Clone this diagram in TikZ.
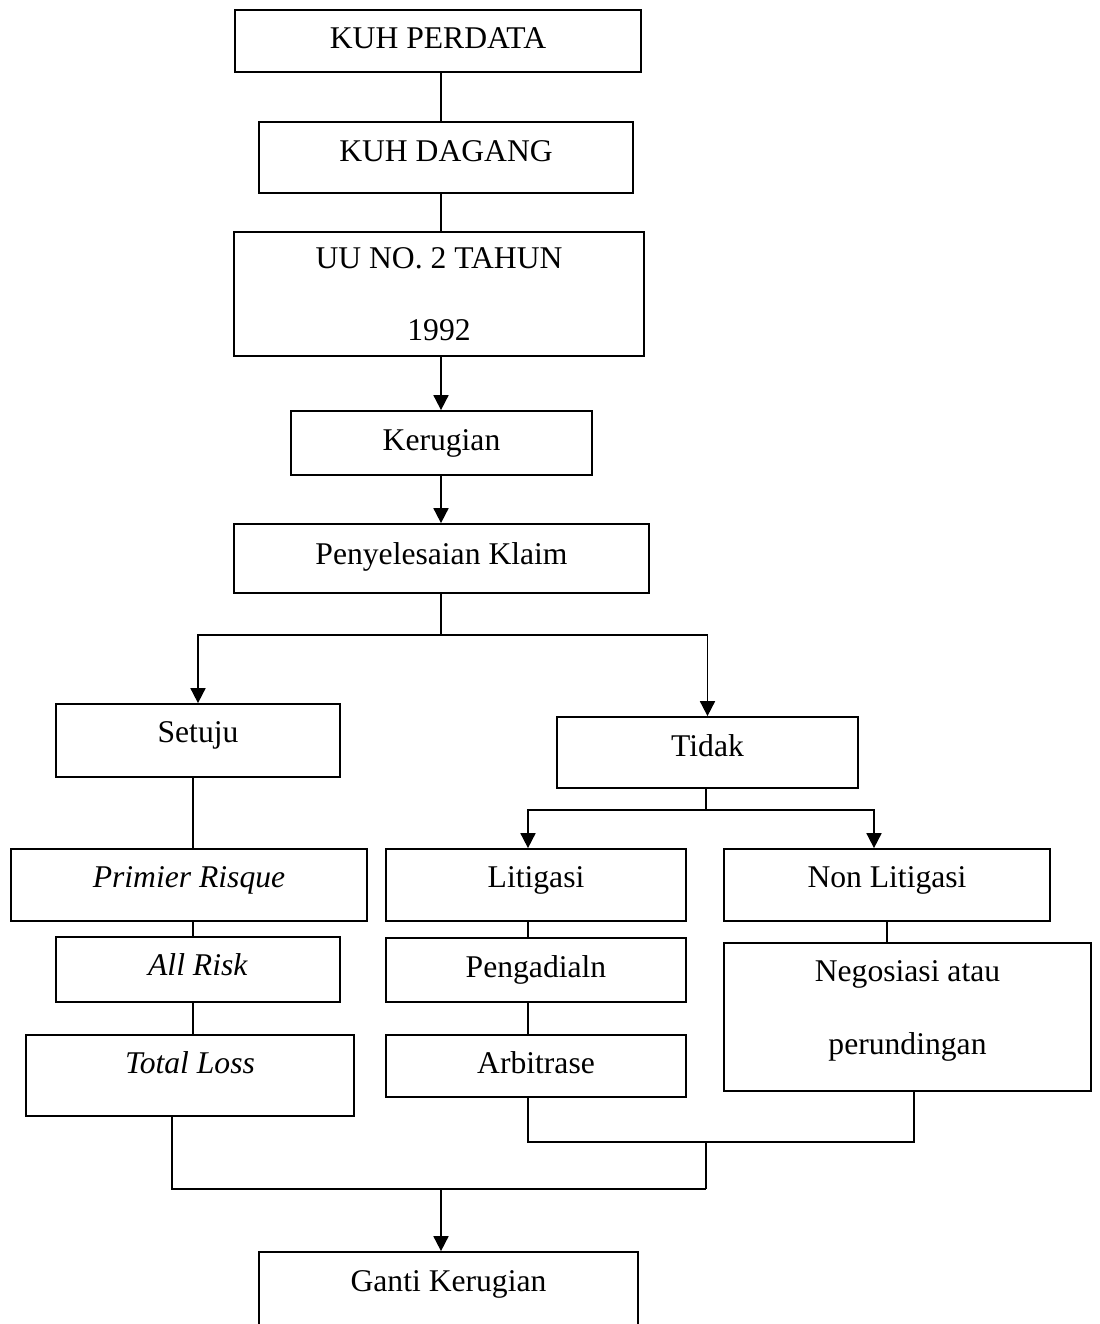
\documentclass[tikz,border=0pt]{standalone}
\usepackage{fontspec}
\setmainfont{Liberation Serif}
\usepackage{tikz}
\usetikzlibrary{arrows.meta}

\begin{document}
\begin{tikzpicture}[x=0.02cm, y=-0.02cm]
  \tikzset{
    box/.style={
      draw,
      rectangle,
      fill=white,
      line width=1pt,
      inner sep=0pt,
      font=\fontsize{18}{21.6}\selectfont
    },
    textdrop/.style={
      text height=12pt,
      text depth=#1
    },
    link/.style={
      draw,
      line width=0.7pt
    },
    flow/.style={
      draw,
      line width=1pt,
      -{Triangle[length=8.5pt, width=8.5pt]}
    }
  }

  \path[use as bounding box, clip] (0,0) rectangle (1099,1324);
  \fill[white] (0,0) rectangle (1099,1324);

  \node[box, textdrop=2.9pt, minimum width=8.12cm, minimum height=1.24cm] (perdata) at (438,41) {KUH PERDATA};
  \node[box, textdrop=8pt, minimum width=7.48cm, minimum height=1.42cm] (dagang) at (446,157.5) {KUH DAGANG};
  \node[box, align=center, minimum width=8.2cm, minimum height=2.48cm] (uu) at (439,294) {UU NO. 2 TAHUN\\[19.4pt]1992};
  \node[box, textdrop=2.9pt, minimum width=6.02cm, minimum height=1.28cm] (kerugian) at (441.5,443) {Kerugian};
  \node[box, textdrop=5.7pt, minimum width=8.3cm, minimum height=1.38cm] (klaim) at (441.5,558.5) {Penyelesaian Klaim};

  \node[box, textdrop=9.2pt, minimum width=5.68cm, minimum height=1.46cm] (setuju) at (198,740.5) {Setuju};
  \node[box, textdrop=6.9pt, minimum width=6.02cm, minimum height=1.42cm] (tidak) at (707.5,752.5) {Tidak};

  \node[box, textdrop=8.6pt, minimum width=7.12cm, minimum height=1.44cm] (primier) at (189,885) {\textit{Primier Risque}};
  \node[box, textdrop=8.6pt, minimum width=6cm, minimum height=1.44cm] (litigasi) at (536,885) {Litigasi};
  \node[box, textdrop=8.6pt, minimum width=6.52cm, minimum height=1.44cm] (nonlit) at (887,885) {Non Litigasi};

  \node[box, textdrop=5.7pt, minimum width=5.68cm, minimum height=1.3cm] (allrisk) at (198,969.5) {\textit{All Risk}};
  \node[box, textdrop=4pt, minimum width=6cm, minimum height=1.28cm] (pengadilan) at (536,970) {Pengadialn};
  \node[box, align=center, minimum width=7.34cm, minimum height=2.96cm] (negosiasi) at (907.5,1017) {Negosiasi atau\\[19.9pt]perundingan\rule[-10.4pt]{0pt}{10.4pt}};

  \node[box, textdrop=14.8pt, minimum width=6.56cm, minimum height=1.62cm] (totalloss) at (190,1075.5) {\textit{Total Loss}};
  \node[box, textdrop=4pt, minimum width=6cm, minimum height=1.24cm] (arbitrase) at (536,1066) {Arbitrase};

  \node[box, textdrop=16.6pt, minimum width=7.58cm, minimum height=1.76cm] (ganti) at (448.5,1296) {Ganti Kerugian};

  % columns and joints of the connectors
  \coordinate (axis) at (441,0);
  \coordinate (lcol) at (193,0);
  \coordinate (tcol) at (172,0);
  \coordinate (mcol) at (528,0);
  \coordinate (rcol) at (874,0);
  \coordinate (ncol) at (914,0);
  \coordinate (split) at (441,635);
  \coordinate (fork) at (706,810);
  \coordinate (join) at (706,1142);
  \coordinate (merge) at (441,1189);

  \draw[link] (axis |- perdata.south) -- (axis |- dagang.north);
  \draw[link] (axis |- dagang.south) -- (axis |- uu.north);
  \draw[flow] (axis |- uu.south) -- (axis |- kerugian.north);
  \draw[flow] (axis |- kerugian.south) -- (axis |- klaim.north);
  \draw[link] (axis |- klaim.south) -- (split);
  \draw[flow] (split) -| (setuju.north);
  \draw[flow] (split) -| (tidak.north);

  \draw[link] (lcol |- setuju.south) -- (lcol |- primier.north);
  \draw[link] (lcol |- primier.south) -- (lcol |- allrisk.north);
  \draw[link] (lcol |- allrisk.south) -- (lcol |- totalloss.north);

  \draw[link] (fork |- tidak.south) -- (fork);
  \draw[flow] (fork) -| (mcol |- litigasi.north);
  \draw[flow] (fork) -| (rcol |- nonlit.north);
  \draw[link] (mcol |- litigasi.south) -- (mcol |- pengadilan.north);
  \draw[link] (mcol |- pengadilan.south) -- (mcol |- arbitrase.north);
  \draw[link] (nonlit.south) -- (nonlit.south |- negosiasi.north);

  \draw[link] (mcol |- arbitrase.south) |- (join) -| (ncol |- negosiasi.south);
  \draw[link] (join) -- (join |- merge);
  \draw[link] (tcol |- totalloss.south) |- (join |- merge);
  \draw[flow] (merge) -- (merge |- ganti.north);
\end{tikzpicture}
\end{document}
